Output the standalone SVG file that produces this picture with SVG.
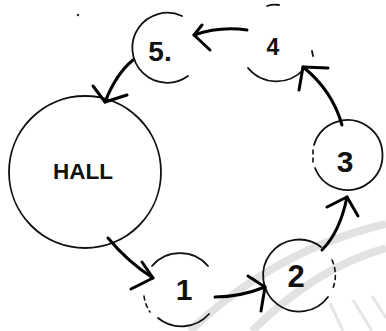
<svg xmlns="http://www.w3.org/2000/svg" width="386" height="331" viewBox="0 0 386 331">
  <style>
    .ring { fill: none; stroke: #111; stroke-width: 1.8; stroke-linecap: round; }
    .dash { fill: none; stroke: #111; stroke-width: 1.6; stroke-dasharray: 4 4; stroke-linecap: round; }
    .wire { fill: none; stroke: #000; stroke-width: 3; stroke-linecap: round; stroke-linejoin: round; }
    .label { font-family: "Liberation Sans", Arial, sans-serif; font-weight: bold; fill: #111; text-anchor: middle; }
    .wm { fill: none; stroke: #e2e2e2; stroke-width: 8; }
    .wmt { fill: none; stroke: #e6e6e6; stroke-width: 3; }
  </style>
  <rect width="386" height="331" fill="#fff"/>
  <g id="watermark">
    <path class="wm" d="M 190 331 Q 275 250 386 224"/>
    <path class="wm" d="M 252 331 Q 315 268 386 248"/>
    <path class="wmt" d="M 330 303 L 343 331"/>
    <path class="wmt" d="M 353 300 L 372 331"/>
    <path class="wmt" d="M 372 296 L 386 318"/>
  </g>
  <g id="hall">
    <circle class="ring" cx="85" cy="172" r="76"/>
    <text class="label" x="83" y="179" font-size="22" textLength="60" lengthAdjust="spacingAndGlyphs">HALL</text>
  </g>
  <g id="node1">
    <path class="ring" d="M 152 266 A 37 37 0 0 1 208 266"/>
    <path class="dash" d="M 144 296 A 37 37 0 0 0 150 312"/>
    <path class="ring" d="M 158 318 A 37 37 0 0 0 209 314"/>
    <text class="label" x="184" y="300" font-size="30">1</text>
  </g>
  <g id="node2">
    <path class="ring" d="M 321 247 A 36 36 0 1 0 328 297"/>
    <path class="dash" d="M 332 260 A 36 36 0 0 1 333 288"/>
    <text class="label" x="296" y="287" font-size="31">2</text>
  </g>
  <g id="node3">
    <path class="ring" d="M 314 145 A 35 35 0 1 1 315 168"/>
    <path class="dash" d="M 313 150 L 313 162"/>
    <text class="label" x="345" y="172" font-size="30">3</text>
  </g>
  <g id="node4">
    <path class="ring" d="M 248 68 A 37 37 0 0 0 304 69"/>
    <path class="ring" d="M 267 6 Q 273 4 279 5"/>
    <path class="ring" d="M 312 51 L 313 56"/>
    <text class="label" x="273" y="55" font-size="23">4</text>
  </g>
  <g id="node5">
    <path class="ring" d="M 182 16 A 35 35 0 1 0 188 76"/>
    <text class="label" x="160" y="61" font-size="28">5.</text>
  </g>
  <circle cx="78" cy="15" r="1.2" fill="#222"/>
  <g id="connectors">
    <path class="wire" d="M 133 60 Q 116 74 105 102"/>
    <path class="wire" d="M 93 86 L 105 102 L 127 95"/>
    <path class="wire" d="M 247 30 Q 220 26 194 35"/>
    <path class="wire" d="M 202 25 L 194 35 L 210 50"/>
    <path class="wire" d="M 342 125 Q 332 90 303 67"/>
    <path class="wire" d="M 328 68 L 303 67 L 299 90"/>
    <path class="wire" d="M 322 250 Q 340 232 347 197"/>
    <path class="wire" d="M 327 207 L 347 197 L 358 216"/>
    <path class="wire" d="M 215 297 Q 240 297 265 287"/>
    <path class="wire" d="M 248 276 L 265 287 L 261 311"/>
    <path class="wire" d="M 108 238 Q 128 262 153 278"/>
    <path class="wire" d="M 142 262 L 153 278 L 131 289"/>
  </g>
</svg>
